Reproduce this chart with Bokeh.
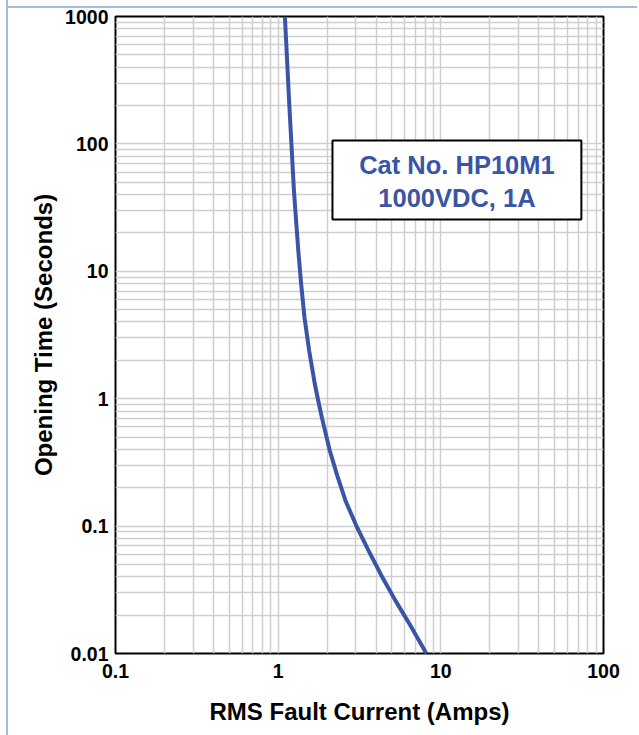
from bokeh.plotting import figure
from bokeh.models import FixedTicker, BoxAnnotation, Label
from bokeh.embed import file_html
from bokeh.resources import INLINE

# ---- data ----
current_amps = [1.10, 1.17, 1.25, 1.329, 1.384, 1.451, 1.55, 1.679, 1.762, 1.854,
                2.075, 2.308, 2.59, 3.02, 3.60, 4.31, 5.26, 6.50, 8.15]
opening_time_s = [1000, 206, 43, 14.6, 7.98, 4.36, 2.39, 1.31, 0.968, 0.716,
                  0.392, 0.249, 0.159, 0.101, 0.064, 0.041, 0.026, 0.0166, 0.0100]

x_ticks = [0.1, 1, 10, 100]
x_labels = ["0.1", "1", "10", "100"]
y_ticks = [0.01, 0.1, 1, 10, 100, 1000]
y_labels = ["0.01", "0.1", "1", "10", "100", "1000"]
mantissas = [2, 3, 4, 5, 6, 7, 8, 9]

legend_line1 = "Cat No. HP10M1"
legend_line2 = "1000VDC, 1A"

x_title = "RMS Fault Current (Amps)"
y_title = "Opening Time (Seconds)"

# ---- styling ----
BLUE = "#3a55a5"
FRAME_BLUE = "#a9bcd0"
FONT = "Liberation Sans"
GRID = "#cfcfcf"

p = figure(width=631, height=735, x_axis_type="log", y_axis_type="log",
           x_range=(0.1, 100), y_range=(0.01, 1000),
           output_backend="svg", toolbar_location=None,
           min_border_left=107, min_border_right=36,
           min_border_top=16, min_border_bottom=82)
p.styles = {"margin-left": "6px",
            "border-left": "2px solid " + FRAME_BLUE,
            "background-image": "linear-gradient(%s, %s)" % (FRAME_BLUE, FRAME_BLUE),
            "background-size": "100% 2px",
            "background-position": "0 6px",
            "background-repeat": "no-repeat"}

p.background_fill_color = "white"
p.border_fill_color = None
p.outline_line_color = "black"
p.outline_line_width = 2

x_minor = [m * t for t in x_ticks[:-1] for m in mantissas]
y_minor = [m * t for t in y_ticks[:-1] for m in mantissas]
p.xaxis.ticker = FixedTicker(ticks=x_ticks, minor_ticks=x_minor)
p.yaxis.ticker = FixedTicker(ticks=y_ticks, minor_ticks=y_minor)
p.xaxis.major_label_overrides = dict(zip(x_ticks, x_labels))
p.yaxis.major_label_overrides = dict(zip(y_ticks, y_labels))

for ax in (p.xaxis, p.yaxis):
    ax.axis_line_color = None
    ax.major_tick_line_color = None
    ax.minor_tick_line_color = None
    ax.major_tick_out = 0
    ax.minor_tick_out = 0
    ax.major_label_text_font = FONT
    ax.major_label_text_font_style = "bold"
    ax.major_label_text_font_size = "19.5px"
    ax.major_label_text_color = "black"
    ax.axis_label_text_font = FONT
    ax.axis_label_text_font_style = "bold"
    ax.axis_label_text_font_size = "24px"
    ax.axis_label_text_color = "black"

p.xaxis.axis_label = x_title
p.yaxis.axis_label = y_title
p.xaxis.major_label_standoff = 10
p.xaxis.axis_label_standoff = 17
p.yaxis.major_label_standoff = 7
p.yaxis.axis_label_standoff = 5

for g in (p.xgrid, p.ygrid):
    g.grid_line_color = GRID
    g.grid_line_width = 1.5
    g.minor_grid_line_color = GRID
    g.minor_grid_line_width = 1.5

p.line(current_amps, opening_time_s, line_color=BLUE, line_width=4,
       line_join="round")

# legend-like text box
box = BoxAnnotation(left=2.157, right=73.1, bottom=25.5, top=106.3,
                    fill_color="white", fill_alpha=1.0,
                    line_color="black", line_alpha=1.0, line_width=2)
p.add_layout(box)
for txt, yy in ((legend_line1, 67.7), (legend_line2, 37.3)):
    p.add_layout(Label(x=12.56, y=yy, text=txt, text_align="center",
                       text_baseline="middle", text_font=FONT,
                       text_font_style="bold", text_font_size="25.5px",
                       text_color=BLUE))

open("out.html", "w").write(file_html(p, INLINE))
